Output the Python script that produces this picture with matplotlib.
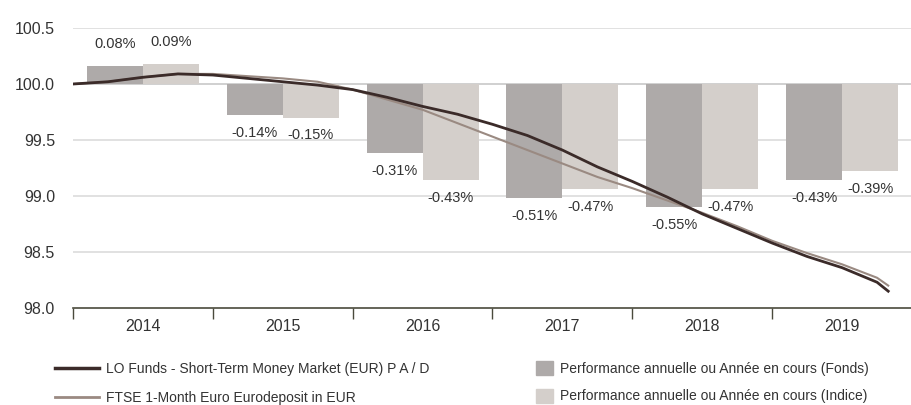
import numpy as np
import matplotlib
matplotlib.use("Agg")
import matplotlib.pyplot as plt
from matplotlib.lines import Line2D
from matplotlib.patches import Patch

plt.rcParams['font.family'] = ['Liberation Sans', 'DejaVu Sans']

# données
years = ['2014', '2015', '2016', '2017', '2018', '2019']
fund_pct = [0.08, -0.14, -0.31, -0.51, -0.55, -0.43]
index_pct = [0.09, -0.15, -0.43, -0.47, -0.47, -0.39]

# temps en années depuis début 2014
t = [0.0, 0.25, 0.5, 0.75, 1.0, 1.25, 1.5, 1.75, 2.0, 2.25, 2.5, 2.75, 3.0,
     3.25, 3.5, 3.75, 4.0, 4.25, 4.5, 4.75, 5.0, 5.25, 5.5, 5.75, 5.83]
fund_line = [100.00, 100.02, 100.06, 100.09, 100.08, 100.05, 100.02, 99.99, 99.95,
             99.88, 99.80, 99.73, 99.64, 99.54, 99.41, 99.26, 99.13, 98.99, 98.84,
             98.71, 98.58, 98.46, 98.36, 98.23, 98.15]
index_line = [100.00, 100.02, 100.06, 100.09, 100.09, 100.07, 100.05, 100.02, 99.95,
              99.86, 99.77, 99.65, 99.53, 99.41, 99.29, 99.17, 99.07, 98.96, 98.85,
              98.73, 98.60, 98.49, 98.39, 98.27, 98.20]

labels_lines = ['LO Funds - Short-Term Money Market (EUR) P A / D',
                'FTSE 1-Month Euro Eurodeposit in EUR']
labels_bars = ['Performance annuelle ou Année en cours (Fonds)',
               'Performance annuelle ou Année en cours (Indice)']

c_fund_bar = '#aeaaa9'
c_index_bar = '#d4cfcb'
c_fund_line = '#3b2b29'
c_index_line = '#9a8a82'
c_text = '#333333'

fig = plt.figure(figsize=(9.12, 4.05), dpi=100)
ax = fig.add_axes([73 / 912, 1 - 308 / 405, 1 - 73 / 912, 280 / 405])

x = np.arange(len(years))
w = 0.4
scale = 2.0  # 1% de perf = 2 points sur l'échelle base 100
ax.bar(x + 0.1, np.array(fund_pct) * scale, width=w, bottom=100, align='edge',
       color=c_fund_bar, zorder=2)
ax.bar(x + 0.5, np.array(index_pct) * scale, width=w, bottom=100, align='edge',
       color=c_index_bar, zorder=2)

for xs, vals in ((x + 0.3, fund_pct), (x + 0.7, index_pct)):
    for xi, v in zip(xs, vals):
        top = 100 + v * scale
        dy = 16 if v >= 0 else -12.5
        ax.annotate(f'{v:.2f}%', (xi, top), xytext=(0, dy), textcoords='offset points',
                    ha='center', va='center', fontsize=10.5, color=c_text)

ax.plot(t, index_line, color=c_index_line, lw=1.5, zorder=3)
ax.plot(t, fund_line, color=c_fund_line, lw=2.0, zorder=4)

ax.set_xlim(0, 5.95)
ax.set_ylim(98.0, 100.5)
yt = [98.0, 98.5, 99.0, 99.5, 100.0, 100.5]
ax.set_yticks(yt)
ax.set_yticklabels([f'{v:.1f}' for v in yt])
ax.tick_params(axis='y', length=0, pad=13, labelsize=11.5, labelcolor=c_text)

ax.set_xticks(np.arange(0, 7))
ax.set_xticks(x + 0.5, minor=True)
ax.set_xticklabels([])
ax.set_xticklabels(years, minor=True)
ax.tick_params(axis='x', which='major', length=8, width=1, color='#4a4a3c', direction='out')
ax.tick_params(axis='x', which='minor', length=0, pad=8, labelsize=11.5, labelcolor=c_text)

for v in [98.5, 99.0, 99.5, 100.5]:
    ax.axhline(v, color='#dcdcdc', lw=1.2, zorder=1)
ax.axhline(100.0, color='#c8c8c8', lw=1.2, zorder=1)

for s in ['top', 'right', 'left']:
    ax.spines[s].set_visible(False)
ax.spines['bottom'].set_color('#4a4a3c')
ax.spines['bottom'].set_linewidth(1.2)

h_lines = [Line2D([], [], color=c_fund_line, lw=2.5), Line2D([], [], color=c_index_line, lw=2)]
fig.legend(h_lines, labels_lines, loc='upper left', bbox_to_anchor=(55 / 912, 1 - 362 / 405),
           frameon=False, fontsize=10, handlelength=3.2, labelspacing=1.1, handletextpad=0.5,
           borderpad=0, borderaxespad=0, labelcolor=c_text)
h_bars = [Patch(color=c_fund_bar), Patch(color=c_index_bar)]
fig.legend(h_bars, labels_bars, loc='upper left', bbox_to_anchor=(536 / 912, 1 - 361 / 405),
           frameon=False, fontsize=10, handlelength=1.22, handleheight=1.15, labelspacing=0.95,
           handletextpad=0.5, borderpad=0, borderaxespad=0, labelcolor=c_text)

fig.savefig('out.png', dpi=100)
